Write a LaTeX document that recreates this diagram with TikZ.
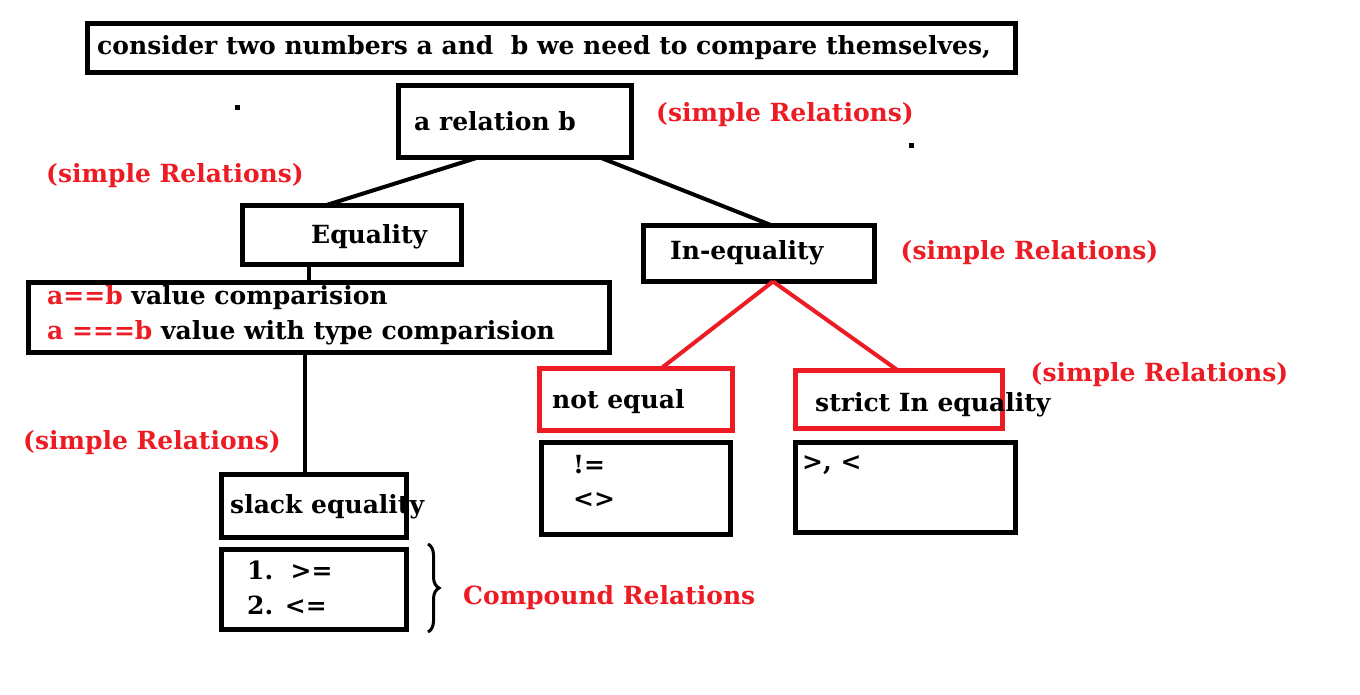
\documentclass[tikz,border=0pt]{standalone}
\usepackage{fontspec}
\setmainfont{DejaVu Serif}[BoldFont={DejaVu Serif Bold}]
\usetikzlibrary{decorations.pathreplacing}
\definecolor{pred}{RGB}{237,28,36}
\begin{document}
\begin{tikzpicture}[x=1pt,y=-1pt,
  box/.style={draw=black, line width=5pt, inner sep=0pt, outer sep=0pt},
  rbox/.style={draw=pred, line width=5pt, inner sep=0pt, outer sep=0pt},
  txt/.style={anchor=west, inner sep=0pt, font=\fontsize{25}{30}\selectfont\bfseries},
  rtxt/.style={inner sep=0pt, text=pred, font=\fontsize{25}{30}\selectfont\bfseries},
  conn/.style={line width=4pt},
  rconn/.style={line width=4pt, draw=pred}]
\useasboundingbox (0,0) rectangle (1360,694);
\fill[white] (0,0) rectangle (1360,694);
% boxes
\node[box, minimum width=928pt, minimum height=49pt] (top) at (551.5,48) {};
\node[box, minimum width=233pt, minimum height=72pt] (rel) at (515,121.5) {};
\node[box, minimum width=219pt, minimum height=59pt] (eq) at (352,235) {};
\node[box, minimum width=581pt, minimum height=70pt] (big) at (319,317.5) {};
\node[box, minimum width=185pt, minimum height=63pt] (slack) at (314,506) {};
\node[box, minimum width=185pt, minimum height=80pt] (cmp) at (314,589.5) {};
\node[box, minimum width=231pt, minimum height=56pt] (ineq) at (759,253.5) {};
\node[rbox, minimum width=193pt, minimum height=62pt] (ne) at (636,399.5) {};
\node[rbox, minimum width=207pt, minimum height=58pt] (strict) at (899,399.5) {};
\node[box, minimum width=189pt, minimum height=92pt] (nebox) at (636,488.5) {};
\node[box, minimum width=220pt, minimum height=90pt] (sbox) at (905.5,487.5) {};
% texts
\node[txt] (ttop) at (97,48) {consider two numbers a and\ \ b we need to compare themselves,};
\node[txt] (trel) at (414,121) {a relation b};
\node[txt] (teq) at (311,237) {Equality};
\node[txt] (tb1) at (47,298) {\textcolor{pred}{a==b} value comparision};
\node[txt] (tb2) at (47,333) {\textcolor{pred}{a ===b} value with type comparision};
\node[txt] (tslack) at (230,507) {slack equality};
\node[txt] (tc1) at (247,570) {1.\ \ >=};
\node[txt] (tc2) at (247,605) {2. <=};
\node[txt] (tineq) at (670,253) {In-equality};
\node[txt] (tne) at (552,402) {not equal};
\node[txt] (tstrict) at (815,405) {strict In equality};
\node[txt] (tn1) at (573,465) {!=};
\node[txt] (tn2) at (573,500) {<>};
\node[txt] (ts1) at (802,465) {>, <};
% red labels
\node[rtxt] (l1) at (785,115) {(simple Relations)};
\node[rtxt] (l2) at (175,176) {(simple Relations)};
\node[rtxt] (l3) at (1029.5,253) {(simple Relations)};
\node[rtxt] (l4) at (1159.5,375) {(simple Relations)};
\node[rtxt] (l5) at (152,443) {(simple Relations)};
\node[rtxt, anchor=west] (l6) at (463,598) {Compound Relations};
% dots
\fill (234.5,104.5) rectangle (239.5,109.5);
\fill (908.5,142.5) rectangle (913.5,147.5);
% connectors
\draw[conn] ([xshift=-37pt]rel.south) -- ([xshift=-27pt]eq.north);
\draw[conn] ([xshift=85pt]rel.south) -- ([xshift=13pt]ineq.north);
\draw[conn] ([xshift=-43pt]eq.south) -- ([xshift=-10pt]big.north);
\draw[conn] ([xshift=-9pt]slack.north) -- ([xshift=-9pt]slack.north |- big.south);
\draw[rconn] ([xshift=14pt]ineq.south) -- ([xshift=25pt]ne.north);
\draw[rconn] ([xshift=14pt]ineq.south) -- ([xshift=-1pt]strict.north);
% brace
\coordinate (bt) at (428,544);
\coordinate (bb) at (428,632);
\draw[line width=3pt, decorate, decoration={brace, amplitude=11pt}] (bt) -- (bb);
\end{tikzpicture}
\end{document}
